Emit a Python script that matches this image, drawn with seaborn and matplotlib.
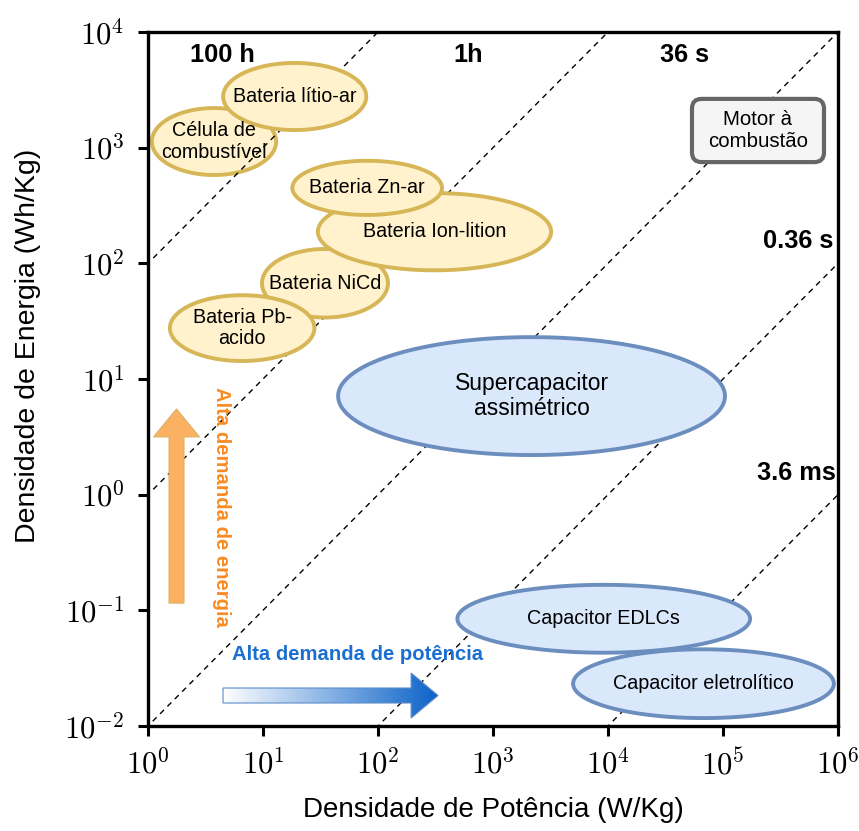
import numpy as np
import matplotlib.pyplot as plt
import seaborn as sns
from matplotlib.patches import FancyArrow, FancyBboxPatch
from matplotlib.colors import LinearSegmentedColormap
from matplotlib.ticker import FixedLocator, FuncFormatter, NullLocator

# Ragone regions: power range (W/Kg) and energy range (Wh/Kg)
names = ['Célula de\ncombustível', 'Bateria lítio-ar', 'Bateria NiCd', 'Bateria Ion-lition',
         'Bateria Zn-ar', 'Bateria Pb-\nacido', 'Supercapacitor\nassimétrico',
         'Capacitor EDLCs', 'Capacitor eletrolítico']
kind = ['bat', 'bat', 'bat', 'bat', 'bat', 'bat', 'cap', 'cap', 'cap']
p_min = [1.08, 4.5, 9.8, 30, 18, 1.55, 45, 490, 4970]
p_max = [13, 79, 122, 3200, 360, 28, 104000, 172000, 920000]
e_min = [580, 1420, 34, 87, 262, 14.3, 2.2, 0.043, 0.0117]
e_max = [2200, 5400, 133, 405, 770, 53, 23, 0.166, 0.046]

# combustion engine box
motor_p = [53700, 755000]
motor_e = [750, 2640]

# constant discharge-time lines (hours)
times_h = [100, 1, 0.01, 1e-4, 1e-6]
time_labels = ['100 h', '1h', '36 s', '0.36 s', '3.6 ms']

sns.set_theme(style='white')
plt.rcParams['font.family'] = ['Liberation Sans', 'DejaVu Sans']
plt.rcParams['mathtext.fontset'] = 'cm'
plt.rcParams['text.color'] = 'black'
plt.rcParams['axes.labelcolor'] = 'black'
plt.rcParams['xtick.color'] = 'black'
plt.rcParams['ytick.color'] = 'black'

fig = plt.figure(figsize=(8.59, 8.31), dpi=100)
ax = fig.add_axes([0.1723, 0.1264, 0.8033, 0.8351])
ax.set_xscale('log')
ax.set_yscale('log')

# dashed time lines
for t in times_h:
    p = np.array([1e-3, 1e7])
    sns.lineplot(x=p, y=t * p, ax=ax, color='black', lw=1.0,
                 linestyle=(0, (4, 3.5)), zorder=2, estimator=None)

# ellipses drawn in log space
theta = np.linspace(0, 2 * np.pi, 400)
zorders = [1, 3, 3, 3.2, 3.4, 3.3, 3, 3, 3.1]
for i, name in enumerate(names):
    cx = (np.log10(p_min[i]) + np.log10(p_max[i])) / 2
    a = (np.log10(p_max[i]) - np.log10(p_min[i])) / 2
    cy = (np.log10(e_min[i]) + np.log10(e_max[i])) / 2
    b = (np.log10(e_max[i]) - np.log10(e_min[i])) / 2
    if kind[i] == 'bat':
        fc, ec = '#FFF2CC', '#D6B656'
    else:
        fc, ec = '#DAE8FC', '#6C8EBF'
    ax.fill(10 ** (cx + a * np.cos(theta)), 10 ** (cy + b * np.sin(theta)),
            fc=fc, ec=ec, lw=2.8, zorder=zorders[i])
    fs = 16.5 if name.startswith('Super') else 14.2
    ax.text(10 ** cx, 10 ** cy, name, ha='center', va='center', fontsize=fs,
            linespacing=1.15, zorder=10)

ax.set_xlim(1, 1e6)
ax.set_ylim(1e-2, 1e4)

# motor box (rounded) placed from its data range
to_axes = ax.transData + ax.transAxes.inverted()
(mx0, my0), (mx1, my1) = to_axes.transform([[motor_p[0], motor_e[0]], [motor_p[1], motor_e[1]]])
box = FancyBboxPatch((mx0, my0), mx1 - mx0, my1 - my0,
                     boxstyle='round,pad=0,rounding_size=0.014', transform=ax.transAxes,
                     fc='#F5F5F5', ec='#666666', lw=3.0, zorder=3)
ax.add_patch(box)
ax.text((mx0 + mx1) / 2, (my0 + my1) / 2, 'Motor à\ncombustão', transform=ax.transAxes,
        ha='center', va='center', fontsize=14.7, linespacing=1.15, zorder=10)

# time labels
label_pos = [(0.108, 0.967), (0.464, 0.967), (0.778, 0.967), (0.942, 0.699), (0.940, 0.365)]
for lab, (x, y) in zip(time_labels, label_pos):
    ax.text(x, y, lab, transform=ax.transAxes, ha='center', va='center',
            fontsize=18.3, fontweight='bold', zorder=10)

# energy arrow (orange)
arr_e = FancyArrow(0.0413, 0.177, 0, 0.2798, width=0.0217, head_width=0.0667,
                   head_length=0.0403, length_includes_head=True, transform=ax.transAxes,
                   fc='#FBB062', ec='#D9B36A', lw=0.8, zorder=5)
ax.add_patch(arr_e)
ax.text(0.107, 0.315, 'Alta demanda de energia', transform=ax.transAxes, rotation=-90,
        ha='center', va='center', fontsize=14.6, fontweight='bold', color='#F98B23', zorder=10)

# power arrow (white -> blue gradient)
x0, y0, dx = 0.1087, 0.0439, 0.3116
arr_p = FancyArrow(x0, y0, dx, 0, width=0.0216, head_width=0.0648, head_length=0.039,
                   length_includes_head=True, transform=ax.transAxes,
                   fc='none', ec='#5B8BC9', lw=0.8, zorder=6)
ax.add_patch(arr_p)
cmap = LinearSegmentedColormap.from_list('pw', ['#FFFFFF', '#0B62C9'])
grad = np.linspace(0, 1, 256).reshape(1, -1)
im = ax.imshow(grad, cmap=cmap, extent=[x0, x0 + dx, y0 - 0.04, y0 + 0.04],
               transform=ax.transAxes, aspect='auto', zorder=5)
im.set_clip_path(arr_p)
ax.text(0.3036, 0.1023, 'Alta demanda de potência', transform=ax.transAxes,
        ha='center', va='center', fontsize=14.6, fontweight='bold', color='#1B6FD1', zorder=10)

ax.set_xlim(1, 1e6)
ax.set_ylim(1e-2, 1e4)

# axes styling
fmt = FuncFormatter(lambda v, pos: r'$10^{%d}$' % round(np.log10(v)))
ax.xaxis.set_major_locator(FixedLocator([10.0 ** k for k in range(0, 7)]))
ax.yaxis.set_major_locator(FixedLocator([10.0 ** k for k in range(-2, 5)]))
ax.xaxis.set_major_formatter(fmt)
ax.yaxis.set_major_formatter(fmt)
ax.xaxis.set_minor_locator(NullLocator())
ax.yaxis.set_minor_locator(NullLocator())
ax.tick_params(axis='both', which='major', direction='out', length=7, width=2.2,
               labelsize=22, color='black', bottom=True, left=True, pad=10)
for s in ax.spines.values():
    s.set_linewidth(2.4)
    s.set_color('black')

ax.set_xlabel('Densidade de Potência (W/Kg)', fontsize=20)
ax.set_ylabel('Densidade de Energia (Wh/Kg)', fontsize=20.5)
ax.xaxis.set_label_coords(0.5, -0.103)
ax.yaxis.set_label_coords(-0.155, 0.548)
ax.grid(False)

fig.savefig('out.png', dpi=100)
